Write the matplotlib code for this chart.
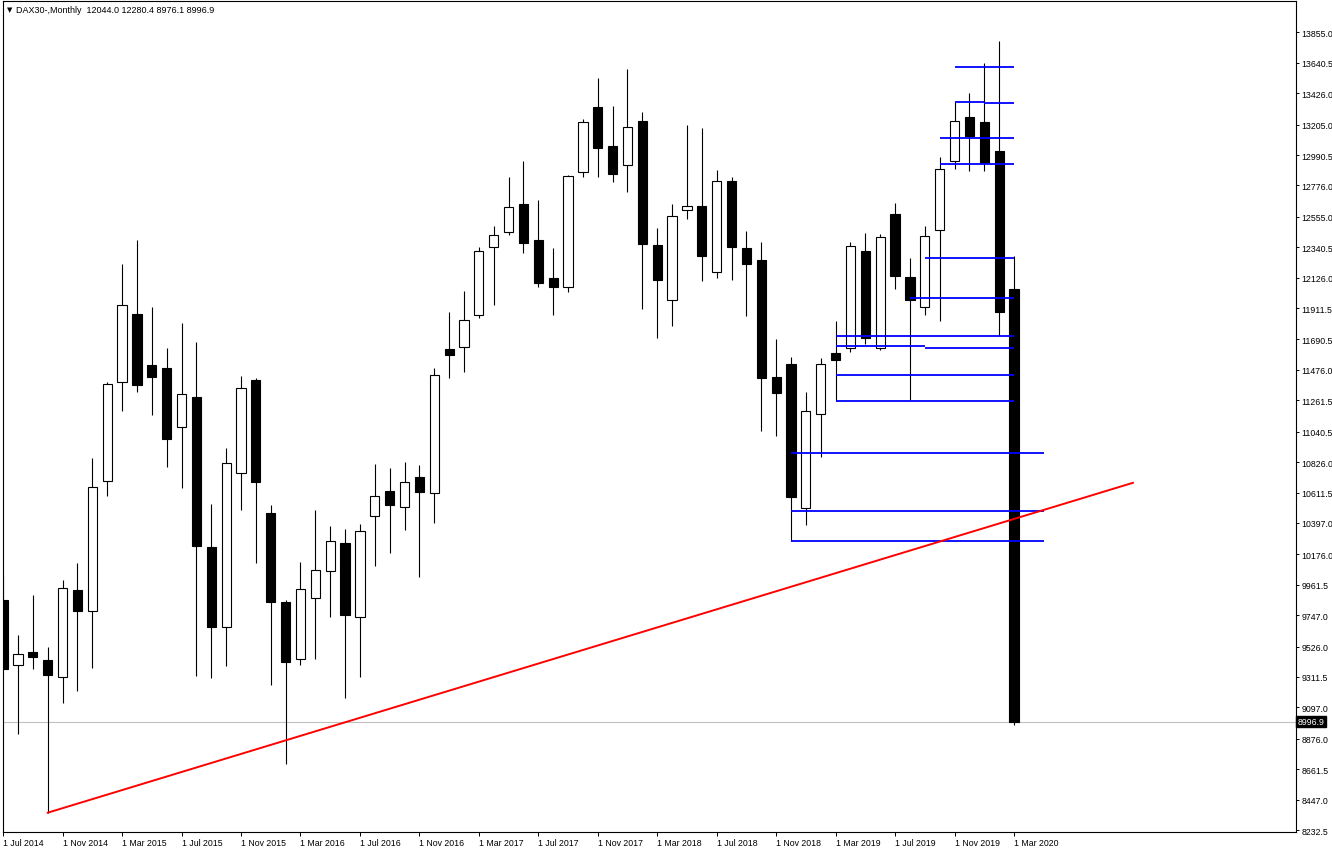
import numpy as np
import matplotlib
matplotlib.use("Agg")
import matplotlib.pyplot as plt
from matplotlib.transforms import blended_transform_factory

# monthly DAX30 candles, Jul 2014 .. Mar 2020
opens = [9857, 9393, 9485, 9431, 9313, 9924, 9776, 10693, 11394, 11867,
         11510, 11488, 11073, 11286, 10231, 9663, 10752, 11407, 10467, 9839,
         9438, 9871, 10060, 10259, 9733, 10446, 10621, 10511, 10722, 10608,
         11626, 11636, 11860, 12340, 12448, 12645, 12392, 12127, 12061, 12874,
         13329, 13052, 12918, 13230, 12359, 11972, 12606, 12634, 12169, 12810,
         12333, 12249, 11429, 11514, 10499, 11166, 11598, 11633, 12312, 11633,
         12578, 12131, 11920, 12462, 12946, 13261, 13223, 13019, 12044.0]
highs = [10032, 9604, 9892, 9523, 9997, 10113, 10854, 11394, 12222, 12394,
         11922, 11632, 11804, 11672, 10528, 10925, 11431, 11418, 10522, 9852,
         10121, 10488, 10376, 10353, 10387, 10811, 10785, 10829, 10806, 11486,
         11886, 12030, 12340, 12491, 12838, 12948, 12671, 12333, 12850, 13247,
         13531, 13336, 13599, 13296, 12474, 12645, 13205, 13179, 12883, 12838,
         12458, 12375, 11692, 11570, 11323, 11560, 11824, 12378, 12444, 12437,
         12655, 12265, 12488, 12979, 13364, 13425, 13637, 13792, 12280.4]
lows = [9360, 8908, 9366, 8355, 9129, 9213, 9377, 10588, 11183, 11321,
        11157, 10790, 10644, 9318, 9307, 9390, 10491, 10116, 9253, 8698,
        9397, 9438, 9733, 9162, 9308, 10092, 10183, 10347, 10019, 10399,
        11420, 11460, 11845, 11936, 12427, 12303, 12060, 11863, 12028, 12838,
        12838, 12800, 12733, 11903, 11704, 11786, 12537, 12101, 12124, 12106,
        11856, 11046, 11011, 10271, 10386, 10865, 11260, 11603, 11657, 11617,
        12044, 11262, 11863, 11821, 12895, 12881, 12881, 11715, 8976.1]
closes = [9366, 9474, 9452, 9326, 9940, 9776, 10647, 11375, 11930, 11372,
          11426, 10992, 11307, 10234, 9663, 10817, 11351, 10687, 9839, 9415,
          9930, 10062, 10271, 9751, 10337, 10587, 10524, 10683, 10615, 11441,
          11584, 11829, 12311, 12428, 12627, 12371, 12091, 12061, 12843, 13223,
          13043, 12859, 13188, 12361, 12113, 12561, 12634, 12277, 12810, 12342,
          12225, 11419, 11316, 10577, 11185, 11518, 11546, 12352, 11704, 12411,
          12138, 11972, 12423, 12895, 13228, 13122, 12932, 11887, 8996.9]

x_labels = ["1 Jul 2014", "1 Nov 2014", "1 Mar 2015", "1 Jul 2015", "1 Nov 2015",
            "1 Mar 2016", "1 Jul 2016", "1 Nov 2016", "1 Mar 2017", "1 Jul 2017",
            "1 Nov 2017", "1 Mar 2018", "1 Jul 2018", "1 Nov 2018", "1 Mar 2019",
            "1 Jul 2019", "1 Nov 2019", "1 Mar 2020"]
y_ticks = [13855.0, 13640.5, 13426.0, 13205.0, 12990.5, 12776.0, 12555.0, 12340.5,
           12126.0, 11911.5, 11690.5, 11476.0, 11261.5, 11040.5, 10826.0, 10611.5,
           10397.0, 10176.0, 9961.5, 9747.0, 9526.0, 9311.5, 9097.0, 8876.0,
           8661.5, 8447.0, 8232.5]

# horizontal levels: price, first bar, last bar
level_price = [13611, 13364, 13357, 13108, 12925, 12268, 11983, 11715,
               11643, 11633, 11438, 11260, 10887, 10480, 10271]
level_start = [64, 64, 66, 63, 63, 62, 61, 56, 56, 62, 56, 56, 53, 53, 53]
level_end = [68, 66, 68, 68, 68, 68, 68, 68, 62, 68, 68, 68, 70, 70, 70]

# trend line from the Oct 2014 low
trend_x = [3, 76]
trend_y = [8355, 10680]

last_price = 8996.9
title = "DAX30-,Monthly  12044.0 12280.4 8976.1 8996.9"

plt.rcParams['font.family'] = ['Liberation Sans', 'DejaVu Sans']

fig = plt.figure(figsize=(13.32, 8.53), dpi=100)
ax = fig.add_axes([0.00203, 0.0238, 0.97072, 0.9742])

idx = np.arange(len(opens))
o = np.array(opens, dtype=float)
c = np.array(closes, dtype=float)
h = np.array(highs, dtype=float)
l = np.array(lows, dtype=float)
up = c >= o

# current price line
ax.axhline(last_price, color="#c0c0c0", lw=0.8, zorder=1)

ax.vlines(idx, l, h, color="black", lw=0.8, zorder=2)
body_lo = np.minimum(o, c)
body_h = np.abs(c - o)
ax.bar(idx[up], body_h[up], bottom=body_lo[up], width=0.62,
       facecolor="white", edgecolor="black", linewidth=0.8, zorder=3)
ax.bar(idx[~up], body_h[~up], bottom=body_lo[~up], width=0.62,
       facecolor="black", edgecolor="black", linewidth=0.8, zorder=3)

ax.hlines(level_price, level_start, level_end, color="#0000ff", lw=1.3, zorder=4)
ax.plot(trend_x, trend_y, color="#ff0000", lw=1.4, zorder=5)

ax.set_xlim(-0.03, 86.95)
ax.set_ylim(8221, 14078)

ax.yaxis.tick_right()
ax.set_yticks(y_ticks)
ax.set_yticklabels([f"{v:.1f}" for v in y_ticks])
ax.set_xticks(np.arange(0, 69, 4))
ax.set_xticklabels(x_labels, ha="left")
ax.tick_params(axis="y", direction="out", length=2.5, width=0.7, pad=1.5,
               labelsize=6.3, colors="black")
ax.tick_params(axis="x", direction="out", length=3, width=0.7, pad=1.5,
               labelsize=6.3, colors="black")
for s in ax.spines.values():
    s.set_linewidth(0.8)
    s.set_color("black")

# price tag on the right axis
tr = blended_transform_factory(ax.transAxes, ax.transData)
ax.text(1.0015, last_price, "8996.9", transform=tr, color="white", fontsize=6.3,
        va="center", ha="left",
        bbox=dict(boxstyle="square,pad=0.15", facecolor="black", edgecolor="black"))

ax.text(0.0035, 0.990, "\u25bc", transform=ax.transAxes, fontsize=5,
        family="DejaVu Sans", va="center", ha="left")
ax.text(0.0105, 0.990, title, transform=ax.transAxes, fontsize=6.5,
        va="center", ha="left")

fig.savefig("out.png", dpi=100)
